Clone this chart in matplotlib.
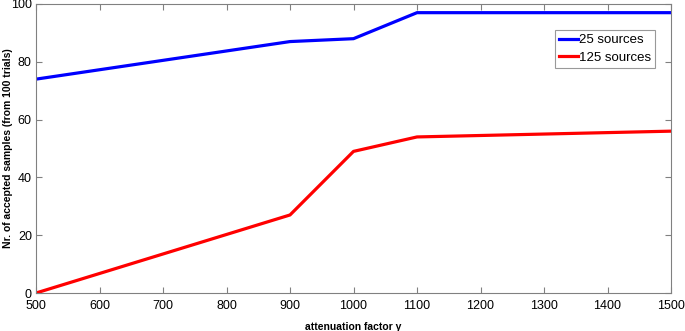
import matplotlib
matplotlib.use("Agg")
import matplotlib.pyplot as plt

plt.rcParams['font.family'] = ['Liberation Sans', 'DejaVu Sans']

x = [500, 900, 1000, 1100, 1500]
sources_25 = [74, 87, 88, 97, 97]
sources_125 = [0, 27, 49, 54, 56]
xticks = [500, 600, 700, 800, 900, 1000, 1100, 1200, 1300, 1400, 1500]
yticks = [0, 20, 40, 60, 80, 100]

fig = plt.figure(figsize=(6.85, 3.31), dpi=100)
ax = fig.add_axes([36/685, 1-293/331, (671-36)/685, (293-4)/331])
ax.plot(x, sources_25, color='#0000ff', lw=2.3, label='25 sources')
ax.plot(x, sources_125, color='#ff0000', lw=2.3, label='125 sources')
ax.set_xlim(500, 1500)
ax.set_ylim(0, 100)
ax.set_xticks(xticks)
ax.set_yticks(yticks)
ax.tick_params(direction='in', top=True, right=True, labelsize=9, color='#808080', length=4)
ax.tick_params(axis='x', pad=5)
ax.tick_params(axis='y', pad=3)
for s in ax.spines.values():
    s.set_color('#808080')
ax.set_xlabel('attenuation factor γ', fontsize=7.5, fontweight='bold', labelpad=7)
ax.set_ylabel('Nr. of accepted samples (from 100 trials)', fontsize=7.5, fontweight='bold')
ax.yaxis.set_label_coords((13-36)/635, 0.5)
leg = ax.legend(loc='upper right', bbox_to_anchor=(0.975, 0.91), fontsize=9.5, frameon=True,
                fancybox=False, handlelength=1.4, handletextpad=0.1, borderpad=0.3,
                labelspacing=0.4, borderaxespad=0)
leg.get_frame().set_edgecolor('#808080')
leg.get_frame().set_linewidth(0.8)
fig.savefig('out.png', dpi=100)
